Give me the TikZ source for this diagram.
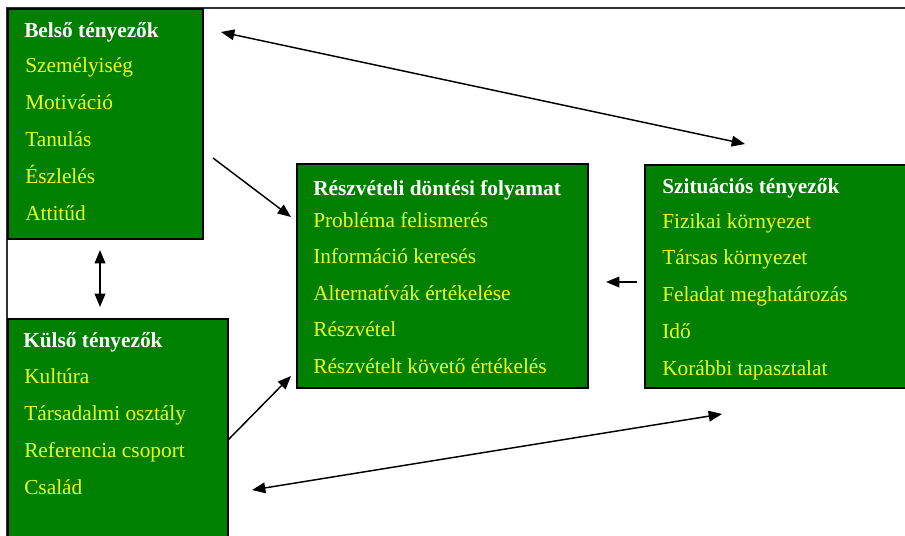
\documentclass[tikz,border=0pt]{standalone}
\usepackage{fontspec}
\setmainfont{Liberation Serif}
\usetikzlibrary{arrows.meta,fit}
\definecolor{boxgreen}{RGB}{0,128,0}
\definecolor{itemyellow}{RGB}{238,255,30}
\definecolor{framegray}{RGB}{50,50,50}
\begin{document}
\begin{tikzpicture}[x=0.75pt,y=-0.75pt,
  panel/.style={draw=black,line width=1.3pt,fill=boxgreen,inner sep=0pt,outer sep=0pt},
  title/.style={text=white,font=\fontsize{16}{18}\selectfont\bfseries,inner sep=0pt,anchor=base west},
  item/.style={text=itemyellow,font=\fontsize{16}{18}\selectfont,inner sep=0pt,anchor=base west},
  tip/.tip={Triangle[length=10pt,width=8pt]},
  conn/.style={draw=black,line width=1.1pt,-tip},
  biconn/.style={draw=black,line width=1.1pt,tip-tip}]
\useasboundingbox[fill=white] (0,0) rectangle (905,535);
% frame
\draw[framegray,line width=1.5pt] (7,545) -- (7,8) -- (920,8);
% boxes
\node[panel,fit={(8,9) (203,239)}] (belso) {};
\node[panel,fit={(8,319) (228,550)}] (kulso) {};
\node[panel,fit={(297,164) (588,388)}] (folyamat) {};
\node[panel,fit={(645,165) (925,388)}] (szit) {};
% Belső tényezők
\node[title] (bt) at (24,38) {Belső tényezők};
\foreach \t [count=\i] in {Személyiség,Motiváció,Tanulás,Észlelés,Attitűd}
  \node[item] (bi\i) at (25,{73+36.8*(\i-1)}) {\t};
% Külső tényezők
\node[title] (kt) at (23,347) {Külső tényezők};
\foreach \t [count=\i] in {Kultúra,Társadalmi osztály,Referencia csoport,Család}
  \node[item] (ki\i) at (24,{383+37.3*(\i-1)}) {\t};
% Részvételi döntési folyamat
\node[title] (ft) at (313,195) {Részvételi döntési folyamat};
\foreach \t [count=\i] in {Probléma felismerés,Információ keresés,Alternatívák értékelése,Részvétel,Részvételt követő értékelés}
  \node[item] (fi\i) at (313,{227+36.6*(\i-1)}) {\t};
% Szituációs tényezők
\node[title] (st) at (662,193) {Szituációs tényezők};
\foreach \t [count=\i] in {Fizikai környezet,Társas környezet,Feladat meghatározás,Idő,Korábbi tapasztalat}
  \node[item] (si\i) at (662,{228+36.8*(\i-1)}) {\t};
% connector end points
\coordinate (a1) at (221,32);
\coordinate (a2) at (745,144);
\coordinate (b1) at (213,158);
\coordinate (b2) at (291,217);
\coordinate (c1) at (228,440);
\coordinate (c2) at (291,376);
\coordinate (d1) at (637,282);
\coordinate (d2) at (606,282);
\coordinate (e1) at (100,250);
\coordinate (e2) at (100,307);
\coordinate (f1) at (252,490);
\coordinate (f2) at (722,414);
% connectors
\draw[biconn] (a1) -- (a2);
\draw[conn] (b1) -- (b2);
\draw[conn] (c1) -- (c2);
\draw[conn] (d1) -- (d2);
\draw[biconn] (e1) -- (e2);
\draw[biconn] (f1) -- (f2);
\end{tikzpicture}
\end{document}
